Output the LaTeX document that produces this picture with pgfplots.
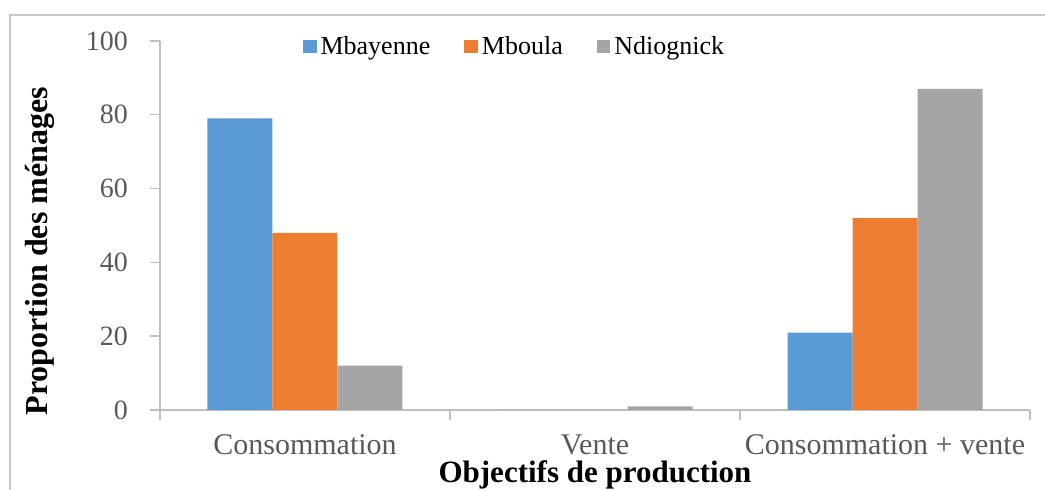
\documentclass[border=0pt]{standalone}
\usepackage{fontspec}
\setmainfont{Liberation Serif}
\usepackage{pgfplots}
\pgfplotsset{compat=1.18}
\definecolor{cblue}{RGB}{91,155,213}
\definecolor{corange}{RGB}{237,125,49}
\definecolor{cgray}{RGB}{165,165,165}
\definecolor{ticktxt}{RGB}{89,89,89}
\definecolor{axline}{RGB}{191,191,191}
\definecolor{frameline}{RGB}{200,200,200}
\begin{document}
\begin{tikzpicture}
\useasboundingbox (-80pt,-40pt) rectangle (442.5pt,205pt);
\draw[line width=1pt, frameline] (-75pt,-45pt) -- (-75pt,197.5pt) -- (450pt,197.5pt);
\begin{axis}[
  scale only axis, width=435pt, height=184.5pt,
  ybar=0pt, bar width=32.5pt,
  xmin=-0.5, xmax=2.5, ymin=0, ymax=100,
  axis x line=bottom, axis y line=left,
  axis line style={-, draw=axline, line width=0.7pt},
  xtick={0,1,2},
  xticklabels={Consommation, Vente, Consommation + vente},
  major x tick style={draw=none},
  minor xtick={-0.5,0.5,1.5,2.5},
  ytick={0,20,...,100},
  tick align=outside, major tick length=5pt, minor tick length=5pt,
  every tick/.style={axline, line width=0.7pt},
  /pgf/number format/assume math mode=true,
  yticklabel style={font=\fontsize{14}{16}\selectfont, text=ticktxt, xshift=-7.5pt},
  xticklabel style={font=\fontsize{15}{17}\selectfont, text=ticktxt, yshift=-4pt},
  ylabel={\textbf{Proportion des ménages}},
  xlabel={\textbf{Objectifs de production}},
  ylabel style={font=\fontsize{16}{18}\selectfont, at={(axis description cs:-0.138,0.43)}, anchor=center, rotate=0},
  xlabel style={font=\fontsize{15.5}{17}\selectfont, at={(axis description cs:0.5,-0.176)}, anchor=center},
  legend columns=3,
  legend style={draw=none, fill=none, at={(axis description cs:0.157,0.985)}, anchor=west,
    font=\fontsize{13}{15}\selectfont,
    /tikz/every even column/.append style={column sep=15pt}},
  legend image code/.code={\fill[#1] (0pt,-3.4pt) rectangle (6.8pt,3.4pt);},
]
\addplot[fill=cblue, draw=none] coordinates {(0,79) (1,0) (2,21)};
\addplot[fill=corange, draw=none] coordinates {(0,48) (1,0) (2,52)};
\addplot[fill=cgray, draw=none] coordinates {(0,12) (1,1) (2,87)};
\legend{Mbayenne, Mboula, Ndiognick}
\end{axis}
\end{tikzpicture}
\end{document}
